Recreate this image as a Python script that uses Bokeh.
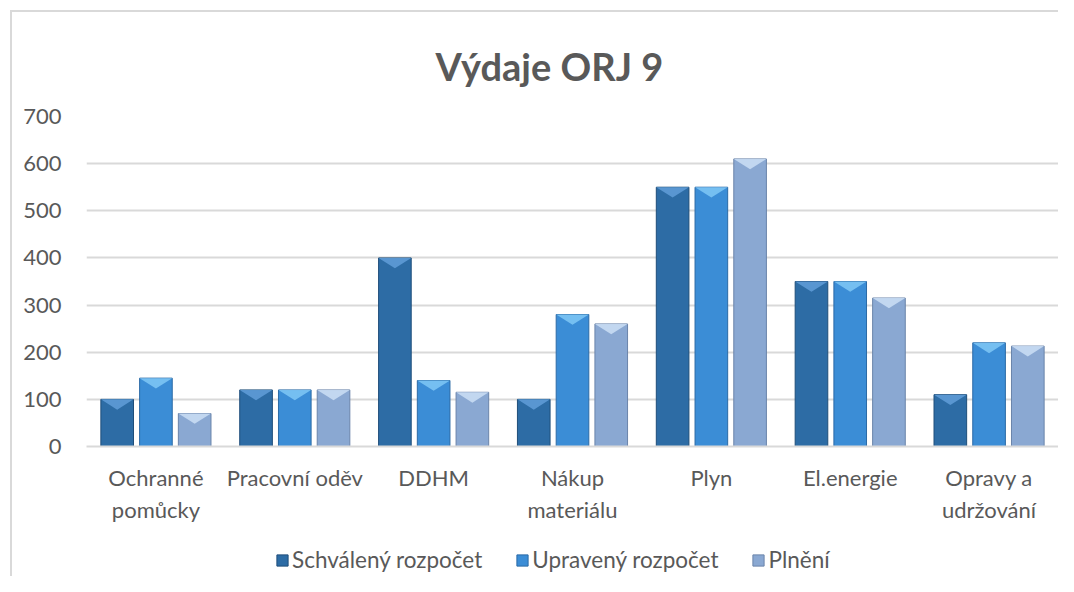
import numpy as np
from bokeh.plotting import figure
from bokeh.layouts import column
from bokeh.models import ColumnDataSource, Legend, LegendItem, FixedTicker, Range1d, Title
from bokeh.embed import file_html
from bokeh.resources import INLINE

categories = ["Ochranné\npomůcky", "Pracovní oděv", "DDHM", "Nákup\nmateriálu", "Plyn", "El.energie", "Opravy a\nudržování"]
schvaleny = [100, 120, 400, 100, 550, 350, 110]
upraveny = [145, 120, 140, 280, 550, 350, 220]
plneni = [70, 120, 115, 260, 610, 315, 213]
series_names = ["Schválený rozpočet", "Upravený rozpočet", "Plnění"]

FONT = "Lato"
TXT = "#595959"
GRID = "#D9D9D9"

face = ["#2D6CA5", "#3B8DD6", "#8AA8D2"]
top = ["#5E9BD6", "#7CC4F4", "#C8DCF3"]
edge = ["#1F4E7A", "#2B6AA6", "#6A84AA"]

W = 1046
p = figure(width=W, height=514, output_backend="svg", toolbar_location=None,
           x_range=Range1d(-0.5, len(categories) - 0.5), y_range=Range1d(0, 700),
           min_border_left=74, min_border_right=0, min_border_top=103, min_border_bottom=80)
p.outline_line_color = None
p.background_fill_color = "white"
p.border_fill_color = "white"

t = Title(text="Výdaje ORJ 9", align="left", text_font=FONT, text_font_size="38px",
          text_font_style="bold", text_color=TXT, offset=349, standoff=56)
p.add_layout(t, "above")

x = np.arange(len(categories))
offsets = [-0.279, 0.0, 0.279]
bw = 0.235
bevel = 22
all_series = [schvaleny, upraveny, plneni]
for i, vals in enumerate(all_series):
    xs = x + offsets[i]
    v = np.array(vals, dtype=float)
    src = ColumnDataSource(dict(x=xs, top=v))
    p.vbar(x="x", top="top", width=bw, source=src, fill_color=face[i],
           line_color=edge[i], line_width=1)
    tri_x = [[xx - bw / 2, xx + bw / 2, xx] for xx in xs]
    tri_y = [[vv, vv, vv - min(bevel, vv / 2)] for vv in v]
    p.patches(tri_x, tri_y, fill_color=top[i], line_color=None, fill_alpha=0.9)

p.xaxis.ticker = FixedTicker(ticks=list(x))
p.xaxis.major_label_overrides = {int(k): c for k, c in zip(x, categories)}
p.yaxis.ticker = FixedTicker(ticks=list(range(0, 701, 100)))

for ax in (p.xaxis[0], p.yaxis[0]):
    ax.major_label_text_font = FONT
    ax.major_label_text_font_size = "22px"
    ax.major_label_text_color = TXT
    ax.major_tick_line_color = None
    ax.minor_tick_line_color = None
p.yaxis.axis_line_color = None
p.xaxis.axis_line_color = GRID
p.xaxis.axis_line_width = 2
p.xaxis.major_label_standoff = 11
p.yaxis.major_label_standoff = 19

p.xgrid.grid_line_color = None
p.ygrid.grid_line_color = GRID
p.ygrid.grid_line_width = 2

# legend strip under the chart (its renderers sit outside the visible range)
p2 = figure(width=W, height=50, output_backend="svg", toolbar_location=None,
            x_range=Range1d(0, 1), y_range=Range1d(0, 1), min_border=0)
p2.axis.visible = False
p2.grid.grid_line_color = None
p2.outline_line_color = None
p2.border_fill_color = "white"
items = []
for i, vals in enumerate(all_series):
    r = p2.vbar(x=x + 100, top=vals, width=0.1, fill_color=face[i],
                line_color=edge[i], line_width=1)
    items.append(LegendItem(label=series_names[i], renderers=[r]))
legend = Legend(items=items, orientation="horizontal", location=(189, 3),
                label_text_font=FONT, label_text_font_size="22.5px", label_text_color=TXT,
                glyph_width=14, glyph_height=14, label_standoff=3, spacing=33,
                border_line_color=None, background_fill_alpha=0, margin=0, padding=0)
p2.add_layout(legend, "center")

layout = column(p, p2, spacing=0,
                styles={"margin-left": "10px", "margin-top": "10px",
                        "border-left": "2px solid #D9D9D9", "border-top": "2px solid #D9D9D9"})

open("out.html", "w").write(file_html(layout, INLINE))
